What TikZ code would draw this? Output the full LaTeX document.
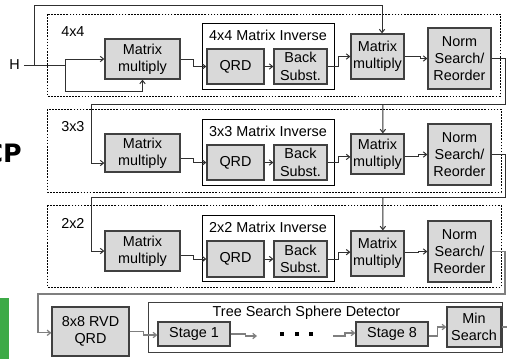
\documentclass[tikz,border=0pt]{standalone}
\usepackage{fontspec}
\setmainfont{Liberation Sans}
\newfontfamily\cpfont{DejaVu Sans}
\usetikzlibrary{arrows.meta}
\definecolor{bfill}{HTML}{D9D9D9}
\definecolor{bline}{HTML}{404040}
\definecolor{cline}{HTML}{303030}
\definecolor{lline}{HTML}{7F7F7F}
\definecolor{grn}{HTML}{3DAA47}
\begin{document}
\begin{tikzpicture}[x=0.75pt,y=-0.75pt,
  every node/.style={font=\fontsize{10.8}{13}\selectfont},
  sz/.style 2 args={minimum width=#1*0.75pt, minimum height=#2*0.75pt},
  blk/.style={draw=bline, fill=bfill, line width=0.95pt, align=center, inner sep=0pt},
  invbox/.style={draw=black, fill=white, line width=0.75pt, inner sep=0pt},
  grp/.style={draw=black, line width=0.7pt, dash pattern=on 1.3pt off 1pt},
  wire/.style={draw=cline, line width=0.75pt},
  conn/.style={wire, -{Straight Barb[length=2.5pt,width=4pt]}},
  lwire/.style={draw=lline, line width=0.9pt},
  lconn/.style={lwire, -{Straight Barb[length=2.5pt,width=4pt]}},
  lbl/.style={anchor=west, inner sep=0pt}]
\useasboundingbox (0,0) rectangle (507,358);

% clipped fragments at the left edge
\fill[grn] (0,298) rectangle (9,360);
\node[anchor=base east, inner sep=0pt, font=\cpfont\bfseries\fontsize{19}{22}\selectfont] (cp) at (22,162) {CP};

% ---------------- 4x4 ----------------
\draw[grp] (47,14) rectangle (500,96);
\node[lbl] (lA) at (61,32) {4x4};
\node[blk, sz={75}{40}] (mmA) at (142.5,59) {Matrix\\multiply};
\node[invbox, sz={132}{66}] (invA) at (268,56) {};
\node[inner sep=0pt] (tA) at (268,35) {4x4 Matrix Inverse};
\node[blk, sz={57}{35}] (qrdA) at (235.5,66.5) {QRD};
\node[blk, sz={53}{35}] (backA) at (300.5,66.5) {Back\\Subst.};
\node[blk, sz={53}{45}] (mm2A) at (377.5,56.5) {Matrix\\multiply};
\node[blk, sz={63}{61}] (normA) at (459.5,58.5) {Norm\\Search/\\Reorder};
\node[inner sep=0pt] (H) at (14.5,65) {H};

% ---------------- 3x3 ----------------
\draw[grp] (47,109) rectangle (501,192);
\node[lbl] (lB) at (61,127) {3x3};
\node[blk, sz={75}{38}] (mmB) at (142.5,153) {Matrix\\multiply};
\node[invbox, sz={132}{66}] (invB) at (268,152) {};
\node[inner sep=0pt] (tB) at (268,131) {3x3 Matrix Inverse};
\node[blk, sz={57}{35}] (qrdB) at (235.5,162.5) {QRD};
\node[blk, sz={53}{35}] (backB) at (300.5,162.5) {Back\\Subst.};
\node[blk, sz={53}{40}] (mm2B) at (377.5,154) {Matrix\\multiply};
\node[blk, sz={63}{61}] (normB) at (459.5,154.5) {Norm\\Search/\\Reorder};

% ---------------- 2x2 ----------------
\draw[grp] (47,205) rectangle (501,287);
\node[lbl] (lC) at (61,223) {2x2};
\node[blk, sz={75}{40}] (mmC) at (142.5,251) {Matrix\\multiply};
\node[invbox, sz={132}{66}] (invC) at (268,248) {};
\node[inner sep=0pt] (tC) at (268,227) {2x2 Matrix Inverse};
\node[blk, sz={57}{36}] (qrdC) at (235.5,259) {QRD};
\node[blk, sz={53}{36}] (backC) at (300.5,259) {Back\\Subst.};
\node[blk, sz={53}{45}] (mm2C) at (377.5,253.5) {Matrix\\multiply};
\node[blk, sz={63}{61}] (normC) at (459.5,251.5) {Norm\\Search/\\Reorder};

% ---------------- detector ----------------
\node[blk, sz={77}{49}] (rvd) at (90.5,331.5) {8x8 RVD\\QRD};
\node[invbox, draw=bline, sz={354}{50}] (tree) at (325,327) {};
\node[inner sep=0pt] (tT) at (306.5,313) {Tree Search Sphere Detector};
\node[blk, sz={72}{24}] (st1) at (194,334) {Stage 1};
\node[blk, sz={72}{24}] (st8) at (392,334) {Stage 8};
\node[blk, sz={54}{40}] (minS) at (474,327) {Min\\Search};

% ---------------- connectors 4x4 ----------------
\coordinate (jH) at (65,65);
\coordinate (jT) at (34,65);
\draw[wire] ([xshift=3pt]H.east) -- (jH);
\draw[conn] (jH) |- (mmA.west);
\draw[conn] (jH) -- (65,91) -| (mmA.south);
\draw[conn] (jT) -- (34,5) -| ([xshift=3.4pt]mm2A.north);
\draw[conn] (mmA.east) -- ++(13,0) |- (qrdA.west);
\draw[conn] (qrdA.east) -- (backA.west);
\draw[conn] (backA.east) -- ++(11,0) |- (mm2A.west);
\draw[conn] (mm2A.east) -- ++(16,0) |- (normA.west);
\coordinate (fA) at (505,104);
\draw[conn] (normA.east) -| (fA) -- (91,104) |- ([yshift=-7.5pt]mmB.west);
\draw[conn] (383,104) -- ([xshift=4pt]mm2B.north);

% ---------------- connectors 3x3 ----------------
\draw[conn] ([yshift=-3.75pt]mmB.east) -- ++(13,0) |- (qrdB.west);
\draw[conn] (qrdB.east) -- (backB.west);
\draw[conn] (backB.east) -- ++(11,0) |- ([yshift=-2.2pt]mm2B.west);
\draw[conn] ([yshift=-2.2pt]mm2B.east) -- ++(14,0) |- (normB.west);
\coordinate (fB) at (505,197);
\draw[conn] (normB.east) -| (fB) -- (91,197) |- (mmC.west);
\draw[conn] (383,197) -- ([xshift=4pt]mm2C.north);

% ---------------- connectors 2x2 ----------------
\draw[conn] ([yshift=-3pt]mmC.east) -- ++(13,0) |- (qrdC.west);
\draw[conn] (qrdC.east) -- (backC.west);
\draw[conn] (backC.east) -- ++(11,0) |- ([yshift=1pt]mm2C.west);
\draw[conn] ([yshift=1pt]mm2C.east) -- ++(14,0) |- (normC.west);
\coordinate (fC) at (505,294);
\draw[lconn] (normC.east) -| (fC) -- (38,294) |- ([yshift=-1pt]rvd.west);

% ---------------- connectors detector ----------------
\draw[lconn] (rvd.east) -- ++(14,0) |- ([yshift=-0.75pt]st1.west);
\coordinate (e1) at (257,336);
\coordinate (e2) at (333,336);
\draw[lconn] (st1.east) -- ++(15,0) |- (e1);
\fill[black] (280,332) rectangle (284,336);
\fill[black] (295,332) rectangle (299,336);
\fill[black] (309,332) rectangle (313,336);
\draw[lconn] (e2) -- ++(12,0) |- ([yshift=0.75pt]st8.west);
\draw[lconn] ([yshift=-1.5pt]st8.east) -- ++(9,0) |- (minS.west);
\coordinate (mo) at (512,327);
\draw[lwire] (minS.east) -- (mo);
\end{tikzpicture}
\end{document}
